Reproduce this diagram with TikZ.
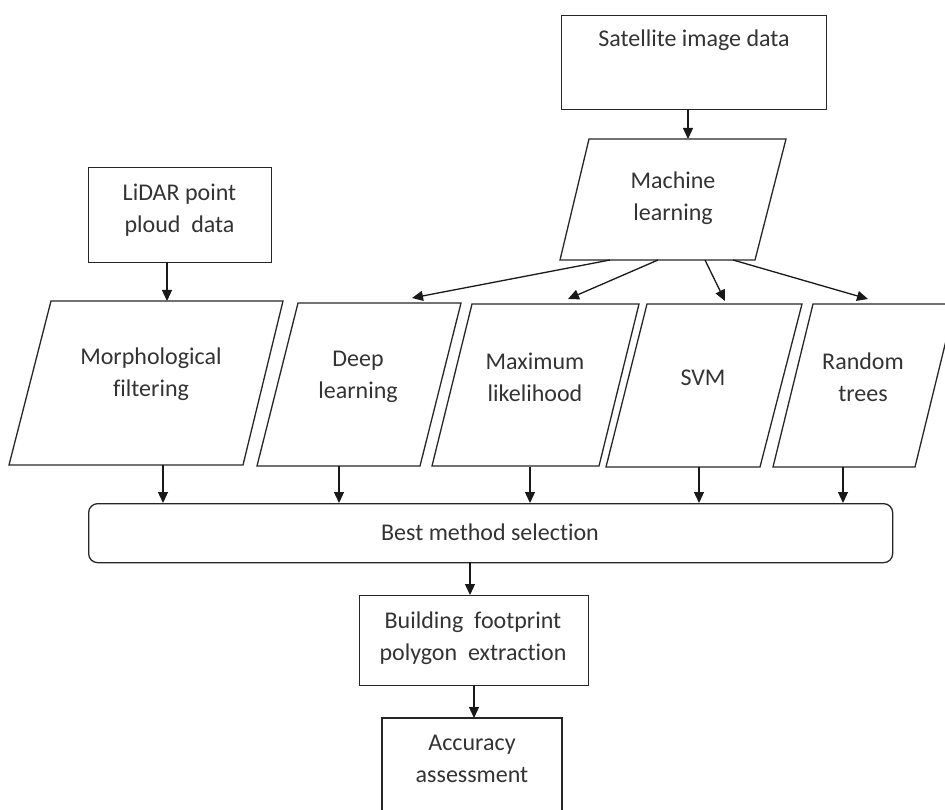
\documentclass[tikz,border=0pt]{standalone}
\usepackage{fontspec}
\setmainfont[Ligatures={NoCommon}]{Carlito}
\usetikzlibrary{arrows.meta}

\tikzset{
  outline/.style={draw=black!85, line width=1.3pt},
  boxnode/.style={outline, rectangle, inner sep=0pt, anchor=north west},
  txt/.style={font=\fontsize{24}{32}\selectfont, text=black!80, align=center, inner sep=0pt},
  arr/.style={draw=black!90, line width=1.3pt, -{Triangle[length=11pt,width=10pt]}},
}

\begin{document}
\begin{tikzpicture}[x=1pt,y=-1pt]
\useasboundingbox (0,0) rectangle (945,810);
\clip (0,0) rectangle (945,810);

% ---- inputs ----
\node[boxnode, minimum width=265pt, minimum height=94pt] (sat) at (561,15) {};
\node[txt] (sat-t) at (694,40) {Satellite image data};

\node[boxnode, minimum width=183pt, minimum height=95pt] (lidar) at (88,167) {};
\node[txt] (lidar-t) at (179.5,210) {LiDAR point\\ploud~ data};

% ---- parallelograms ----
\draw[outline] (589,139) -- (786,139) -- (755,260) -- (560,260) -- cycle;
\node[txt] (ml) at (673,198) {Machine\\learning};

\draw[outline] (51,301) -- (283,301) -- (243,465) -- (9,465) -- cycle;
\node[txt] (morph) at (151,374) {Morphological\\filtering};

\draw[outline] (298,303) -- (461,303) -- (420,466) -- (257,466) -- cycle;
\node[txt] (deep) at (358,377) {Deep\\learning};

\draw[outline] (472,304) -- (639,304) -- (599,466) -- (432,466) -- cycle;
\node[txt] (maxl) at (535,377) {Maximum\\likelihood};

\draw[outline] (647,304) -- (802,304) -- (760,467) -- (606,467) -- cycle;
\node[txt] (svm) at (703,378) {SVM};

\draw[outline] (813,304) -- (955,304) -- (915,467) -- (773,467) -- cycle;
\node[txt] (rt) at (863,377) {Random\\trees};

% ---- selection and outputs ----
\node[boxnode, rounded corners=9pt, minimum width=804pt, minimum height=59pt] (best) at (88,503) {};
\node[txt] (best-t) at (490,532) {Best method selection};

\node[boxnode, minimum width=229pt, minimum height=90pt] (build) at (359,595) {};
\node[txt] (build-t) at (473,638) {Building~ footprint\\polygon~ extraction};

\draw[outline] (382,820) -- (382,718) -- (562,718) -- (562,820);
\node[txt] (acc) at (472,759) {Accuracy\\assessment};

% ---- connector end points ----
\coordinate (sat-o)   at (688,109);  \coordinate (ml-i)    at (688,139);
\coordinate (ml-o1)   at (610,260);  \coordinate (deep-i)  at (412,298);
\coordinate (ml-o2)   at (658,260);  \coordinate (maxl-i)  at (568,299);
\coordinate (ml-o3)   at (705,260);  \coordinate (svm-i)   at (725,301);
\coordinate (ml-o4)   at (733,260);  \coordinate (rt-i)    at (868,299);
\coordinate (lidar-o) at (167,262);  \coordinate (morph-i) at (167,301);
\coordinate (morph-o) at (163,465);  \coordinate (best-i1) at (163,503);
\coordinate (deep-o)  at (339,466);  \coordinate (best-i2) at (339,503);
\coordinate (maxl-o)  at (530,467);  \coordinate (best-i3) at (530,503);
\coordinate (svm-o)   at (699,467);  \coordinate (best-i4) at (699,503);
\coordinate (rt-o)    at (843,467);  \coordinate (best-i5) at (843,503);
\coordinate (best-o)  at (470,562);  \coordinate (build-i) at (470,595);
\coordinate (build-o) at (474,685);  \coordinate (acc-i)   at (474,718);

% ---- connectors ----
\draw[arr] (sat-o) -- (ml-i);
\draw[arr] (ml-o1) -- (deep-i);
\draw[arr] (ml-o2) -- (maxl-i);
\draw[arr] (ml-o3) -- (svm-i);
\draw[arr] (ml-o4) -- (rt-i);
\draw[arr] (lidar-o) -- (morph-i);
\draw[arr] (morph-o) -- (best-i1);
\draw[arr] (deep-o) -- (best-i2);
\draw[arr] (maxl-o) -- (best-i3);
\draw[arr] (svm-o) -- (best-i4);
\draw[arr] (rt-o) -- (best-i5);
\draw[arr] (best-o) -- (build-i);
\draw[arr] (build-o) -- (acc-i);
\end{tikzpicture}
\end{document}
